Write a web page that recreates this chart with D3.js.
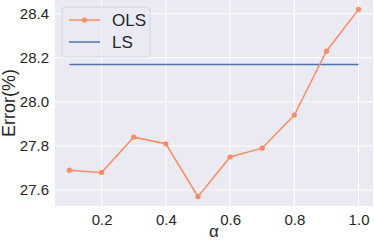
<!DOCTYPE html>
<html>
<head>
<meta charset="utf-8">
<script src="https://cdn.jsdelivr.net/npm/d3@7"></script>
<style>
  body { margin: 0; background: #fff; }
  text { font-family: "Liberation Sans", Arial, sans-serif; fill: #262626; }
</style>
</head>
<body>
<div id="chart"></div>
<script>
let alphas = [0.1, 0.2, 0.3, 0.4, 0.5, 0.6, 0.7, 0.8, 0.9, 1.0];
let olsError = [27.69, 27.68, 27.84, 27.81, 27.57, 27.75, 27.79, 27.94, 28.23, 28.42];
let lsError = 28.17;
let xTicks = [0.2, 0.4, 0.6, 0.8, 1.0];
let yTicks = [27.6, 27.8, 28.0, 28.2, 28.4];

let margin = {top: 0, right: 1, bottom: 35, left: 55};
let width = 374 - margin.left - margin.right,
    height = 241 - margin.top - margin.bottom;

let svg = d3.select("#chart").append("svg")
    .attr("width", 374)
    .attr("height", 241)
    .append("g")
    .attr("transform", "translate(" + margin.left + "," + margin.top + ")");

let x = d3.scaleLinear().domain([0.055, 1.045]).range([0, width]);
let y = d3.scaleLinear().domain([27.5275, 28.4625]).range([height, 0]);

svg.append("rect")
    .attr("width", width)
    .attr("height", height)
    .attr("fill", "#eaeaf2");

// grid
svg.selectAll(".xgrid").data(xTicks).enter().append("line")
    .attr("x1", d => x(d)).attr("x2", d => x(d))
    .attr("y1", 0).attr("y2", height)
    .attr("stroke", "#fff").attr("stroke-width", 1);
svg.selectAll(".ygrid").data(yTicks).enter().append("line")
    .attr("y1", d => y(d)).attr("y2", d => y(d))
    .attr("x1", 0).attr("x2", width)
    .attr("stroke", "#fff").attr("stroke-width", 1);

let xAxis = d3.axisBottom(x).tickValues(xTicks).tickSize(0).tickPadding(8).tickFormat(d3.format(".1f"));
let yAxis = d3.axisLeft(y).tickValues(yTicks).tickSize(0).tickPadding(6).tickFormat(d3.format(".1f"));

let xg = svg.append("g").attr("transform", "translate(0," + height + ")").call(xAxis);
let yg = svg.append("g").call(yAxis);
[xg, yg].forEach(g => {
    g.select(".domain").remove();
    g.selectAll("text").style("font-size", "15px").attr("fill", "#262626");
});

svg.append("text")
    .attr("transform", "rotate(-90)")
    .attr("x", -height / 2)
    .attr("y", -40)
    .style("text-anchor", "middle")
    .style("font-size", "18px")
    .text("Error(%)");

svg.append("text")
    .attr("x", width / 2)
    .attr("y", 237 - margin.top)
    .style("text-anchor", "middle")
    .style("font-size", "17px")
    .text("α");

// LS line
svg.append("line")
    .attr("x1", x(alphas[0])).attr("x2", x(alphas[alphas.length - 1]))
    .attr("y1", y(lsError)).attr("y2", y(lsError))
    .attr("stroke", "#4c72b0").attr("stroke-width", 1.5);

// OLS line
let line = d3.line().x((d, i) => x(alphas[i])).y(d => y(d));
svg.append("path")
    .datum(olsError)
    .attr("d", line)
    .attr("fill", "none")
    .attr("stroke", "#ff8c5e")
    .attr("stroke-width", 1.5);
svg.selectAll(".pt").data(olsError).enter().append("circle")
    .attr("cx", (d, i) => x(alphas[i]))
    .attr("cy", d => y(d))
    .attr("r", 2.6)
    .attr("fill", "#ff8c5e");

// legend
let lg = svg.append("g").attr("transform", "translate(7,7)");
lg.append("rect")
    .attr("width", 88).attr("height", 50).attr("rx", 3)
    .attr("fill", "#eaeaf2").attr("fill-opacity", 0.8)
    .attr("stroke", "#d6d6df");
lg.append("line").attr("x1", 7).attr("x2", 38).attr("y1", 13).attr("y2", 13)
    .attr("stroke", "#ff8c5e").attr("stroke-width", 1.5);
lg.append("circle").attr("cx", 22.5).attr("cy", 13).attr("r", 2.6).attr("fill", "#ff8c5e");
lg.append("line").attr("x1", 7).attr("x2", 38).attr("y1", 35).attr("y2", 35)
    .attr("stroke", "#4c72b0").attr("stroke-width", 1.5);
lg.append("text").attr("x", 50).attr("y", 19).style("font-size", "17px").text("OLS");
lg.append("text").attr("x", 50).attr("y", 41).style("font-size", "17px").text("LS");
</script>
</body>
</html>
